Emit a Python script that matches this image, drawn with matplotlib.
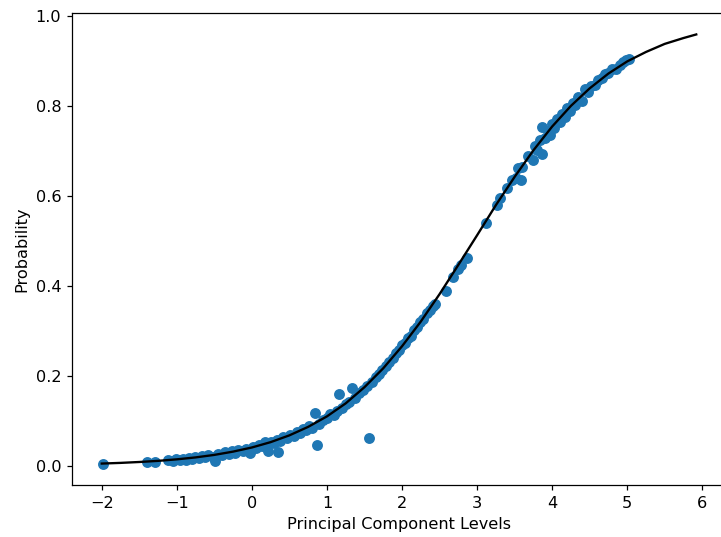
import matplotlib
matplotlib.use("Agg")
import matplotlib.pyplot as plt

# observed points (principal component level, probability)
pc_levels = [
    -1.98, -1.40, -1.29, -1.12, -1.05, -1.01, -0.96, -0.92, -0.88, -0.84,
    -0.80, -0.76, -0.71, -0.66, -0.62, -0.58, -0.52, -0.49, -0.45, -0.40,
    -0.36, -0.31, -0.27, -0.22, -0.18, -0.12, -0.08, -0.03, 0.02, 0.06,
    0.10, 0.14, 0.18, 0.21, 0.25, 0.29, 0.33, 0.35, 0.38, 0.42,
    0.47, 0.51, 0.56, 0.60, 0.64, 0.68, 0.72, 0.76, 0.80, 0.84,
    0.87, 0.90, 0.95, 1.00, 1.04, 1.09, 1.13, 1.16, 1.20, 1.25,
    1.30, 1.34, 1.38, 1.43, 1.48, 1.53, 1.56, 1.60, 1.65, 1.70,
    1.74, 1.79, 1.83, 1.88, 1.92, 1.96, 2.00, 2.04, 2.08, 2.12,
    2.16, 2.20, 2.24, 2.28, 2.33, 2.37, 2.41, 2.44, 2.58, 2.68,
    2.75, 2.79, 2.86, 3.12, 3.26, 3.31, 3.40, 3.46, 3.52, 3.55,
    3.59, 3.60, 3.68, 3.74, 3.77, 3.80, 3.84, 3.86, 3.87, 3.90,
    3.94, 3.97, 4.00, 4.03, 4.06, 4.10, 4.13, 4.17, 4.20, 4.24,
    4.28, 4.31, 4.35, 4.40, 4.44, 4.48, 4.52, 4.57, 4.61, 4.66,
    4.70, 4.75, 4.80, 4.85, 4.90, 4.95, 4.99, 5.02,
]
probability = [
    0.005, 0.008, 0.009, 0.013, 0.011, 0.015, 0.013, 0.016, 0.014, 0.018,
    0.016, 0.020, 0.017, 0.021, 0.019, 0.024, 0.020, 0.011, 0.026, 0.023,
    0.031, 0.027, 0.033, 0.029, 0.035, 0.032, 0.038, 0.028, 0.042, 0.039,
    0.046, 0.044, 0.052, 0.033, 0.053, 0.050, 0.058, 0.030, 0.056, 0.064,
    0.061, 0.069, 0.066, 0.075, 0.072, 0.081, 0.079, 0.088, 0.085, 0.118,
    0.046, 0.094, 0.101, 0.107, 0.116, 0.113, 0.123, 0.160, 0.129, 0.138,
    0.143, 0.174, 0.151, 0.162, 0.168, 0.178, 0.063, 0.186, 0.197, 0.205,
    0.214, 0.222, 0.232, 0.240, 0.251, 0.257, 0.268, 0.273, 0.285, 0.290,
    0.302, 0.308, 0.321, 0.326, 0.339, 0.347, 0.356, 0.359, 0.390, 0.420,
    0.438, 0.446, 0.463, 0.541, 0.580, 0.597, 0.619, 0.636, 0.640, 0.662,
    0.635, 0.664, 0.690, 0.680, 0.712, 0.703, 0.725, 0.695, 0.753, 0.729,
    0.745, 0.737, 0.760, 0.752, 0.772, 0.765, 0.784, 0.776, 0.797, 0.790,
    0.808, 0.802, 0.820, 0.812, 0.838, 0.831, 0.845, 0.848, 0.858, 0.862,
    0.871, 0.875, 0.884, 0.884, 0.893, 0.899, 0.903, 0.906,
]

# fitted curve
curve_x = [
    -2.0, -1.75, -1.5, -1.25, -1.0, -0.75, -0.5, -0.25, 0.0, 0.25,
    0.5, 0.75, 1.0, 1.25, 1.5, 1.75, 2.0, 2.25, 2.5, 2.75,
    3.0, 3.25, 3.5, 3.75, 4.0, 4.25, 4.5, 4.75, 5.0, 5.25,
    5.5, 5.75, 5.92,
]
curve_y = [
    0.0050, 0.0065, 0.0085, 0.0110, 0.0144, 0.0187, 0.0243, 0.0316, 0.0408, 0.0527,
    0.0678, 0.0867, 0.110, 0.139, 0.175, 0.217, 0.266, 0.321, 0.382, 0.447,
    0.513, 0.580, 0.643, 0.702, 0.755, 0.801, 0.840, 0.873, 0.900, 0.921,
    0.939, 0.952, 0.960,
]

plt.rcParams["font.size"] = 10.4

fig = plt.figure(figsize=(721 / 112, 537 / 112), dpi=112)
# the axes run a little past the right edge, as in the cropped original
ax = fig.add_axes([0.0999, 0.0968, 0.907, 0.879])
ax.scatter(pc_levels, probability, color="#1f77b4")
ax.plot(curve_x, curve_y, color="black")
ax.set_xlabel("Principal Component Levels")
ax.set_ylabel("Probability")
ax.set_xticks([-2, -1, 0, 1, 2, 3, 4, 5, 6])
ax.set_yticks([0.0, 0.2, 0.4, 0.6, 0.8, 1.0])
ax.spines["right"].set_visible(False)  # cut off in the original
fig.savefig("out.png", dpi=112)
